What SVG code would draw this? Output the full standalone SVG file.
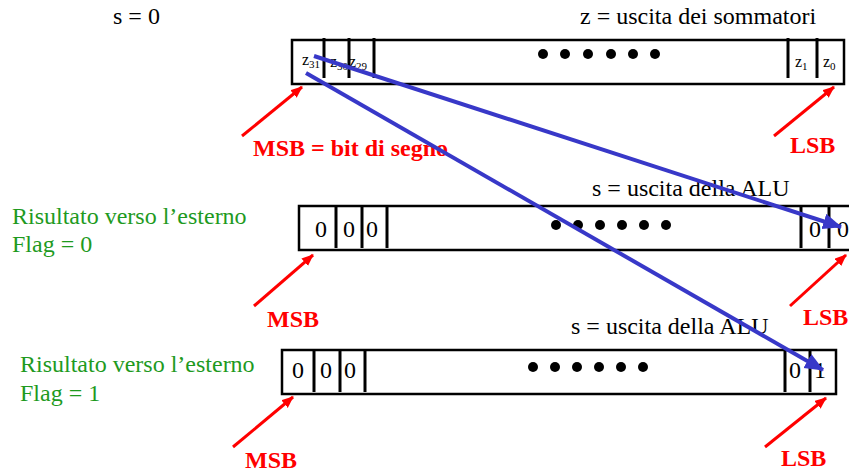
<svg xmlns="http://www.w3.org/2000/svg" width="849" height="473" viewBox="0 0 849 473">
<style>
text{font-family:"Liberation Serif","Times New Roman",serif;font-size:24px;fill:#000}
.red{fill:#ff0000;font-weight:bold}
.green{fill:#1e9a1e}
.box{fill:#fff;stroke:#000;stroke-width:2.5}
.div{stroke:#000;stroke-width:3}
.dot{fill:#000}
.sub{font-size:11px}
.z{font-size:16px}
.ra{stroke:#ff0000;stroke-width:3;fill:none}
.ba{stroke:#3838c8;stroke-width:4;fill:none}
</style>
<defs>
<marker id="rh" markerUnits="userSpaceOnUse" markerWidth="14" markerHeight="12" refX="11" refY="5" orient="auto">
<path d="M0,0 L12,5 L0,10 Z" fill="#ff0000"/>
</marker>
<marker id="bh" markerUnits="userSpaceOnUse" markerWidth="22" markerHeight="18" refX="18" refY="8" orient="auto">
<path d="M0,0 L19,8 L0,16 Z" fill="#3838c8"/>
</marker>
</defs>
<rect width="849" height="473" fill="#fff"/>

<text x="113" y="24">s = 0</text>
<text x="580" y="24">z = uscita dei sommatori</text>

<g id="reg-z">
<rect class="box" x="292" y="40" width="552" height="44"/>
<line class="div" x1="324" y1="38" x2="324" y2="78"/>
<line class="div" x1="349" y1="38" x2="349" y2="78"/>
<line class="div" x1="374" y1="38" x2="374" y2="78"/>
<line class="div" x1="788" y1="38" x2="788" y2="78"/>
<line class="div" x1="817" y1="38" x2="817" y2="78"/>
<circle class="dot" cx="543" cy="54" r="5"/>
<circle class="dot" cx="565" cy="54" r="5"/>
<circle class="dot" cx="588" cy="54" r="5"/>
<circle class="dot" cx="611" cy="54" r="5"/>
<circle class="dot" cx="633" cy="54" r="5"/>
<circle class="dot" cx="655" cy="54" r="5"/>
<text class="z" x="302" y="65">z<tspan class="sub" dy="3">31</tspan></text>
<text class="z" x="330" y="67">z<tspan class="sub" dy="3">30</tspan></text>
<text class="z" x="349" y="67">z<tspan class="sub" dy="3">29</tspan></text>
<text class="z" x="795" y="67">z<tspan class="sub" dy="3">1</tspan></text>
<text class="z" x="823" y="67">z<tspan class="sub" dy="3">0</tspan></text>
</g>
<text class="red" x="253" y="156">MSB = bit di segno</text>
<text class="red" x="790" y="153">LSB</text>

<text x="592" y="196">s = uscita della ALU</text>
<text class="green" x="12" y="224">Risultato verso l’esterno</text>
<text class="green" x="12" y="252">Flag = 0</text>
<g id="reg-s0">
<rect class="box" x="299" y="206" width="556" height="44"/>
<line class="div" x1="336" y1="207" x2="336" y2="248"/>
<line class="div" x1="362" y1="207" x2="362" y2="248"/>
<line class="div" x1="387" y1="207" x2="387" y2="248"/>
<line class="div" x1="801" y1="207" x2="801" y2="248"/>
<line class="div" x1="829" y1="207" x2="829" y2="248"/>
<circle class="dot" cx="556" cy="225" r="5"/>
<circle class="dot" cx="578" cy="225" r="5"/>
<circle class="dot" cx="600" cy="225" r="5"/>
<circle class="dot" cx="622" cy="225" r="5"/>
<circle class="dot" cx="644" cy="225" r="5"/>
<circle class="dot" cx="666" cy="225" r="5"/>
<text x="315" y="237">0</text>
<text x="343" y="237">0</text>
<text x="366" y="237">0</text>
<text x="809" y="237">0</text>
<text x="837" y="237">0</text>
</g>
<text class="red" x="267" y="327">MSB</text>
<text class="red" x="803" y="325">LSB</text>

<text x="571" y="334">s = uscita della ALU</text>
<text class="green" x="20" y="372">Risultato verso l’esterno</text>
<text class="green" x="20" y="401">Flag = 1</text>
<g id="reg-s1">
<rect class="box" x="282" y="350" width="554" height="44"/>
<line class="div" x1="314" y1="351" x2="314" y2="392"/>
<line class="div" x1="340" y1="351" x2="340" y2="392"/>
<line class="div" x1="365" y1="351" x2="365" y2="392"/>
<line class="div" x1="785" y1="351" x2="785" y2="392"/>
<line class="div" x1="810" y1="351" x2="810" y2="392"/>
<circle class="dot" cx="533" cy="367" r="5"/>
<circle class="dot" cx="555" cy="367" r="5"/>
<circle class="dot" cx="577" cy="367" r="5"/>
<circle class="dot" cx="599" cy="367" r="5"/>
<circle class="dot" cx="621" cy="367" r="5"/>
<circle class="dot" cx="643" cy="367" r="5"/>
<text x="292" y="378">0</text>
<text x="320" y="378">0</text>
<text x="344" y="378">0</text>
<text x="789" y="378">0</text>
<text x="814" y="378">1</text>
</g>
<text class="red" x="245" y="468">MSB</text>
<text class="red" x="781" y="466">LSB</text>

<g id="connectors">
<line class="ra" x1="242" y1="136" x2="302" y2="87" marker-end="url(#rh)"/>
<line class="ra" x1="774" y1="136" x2="834" y2="87" marker-end="url(#rh)"/>
<line class="ra" x1="254" y1="306" x2="313" y2="255" marker-end="url(#rh)"/>
<line class="ra" x1="790" y1="306" x2="846" y2="255" marker-end="url(#rh)"/>
<line class="ra" x1="233" y1="447" x2="293" y2="397" marker-end="url(#rh)"/>
<line class="ra" x1="765" y1="447" x2="826" y2="398" marker-end="url(#rh)"/>
<line class="ba" x1="314" y1="56" x2="841" y2="227" marker-end="url(#bh)"/>
<line class="ba" x1="306" y1="73" x2="823" y2="370" marker-end="url(#bh)"/>
</g>
</svg>
